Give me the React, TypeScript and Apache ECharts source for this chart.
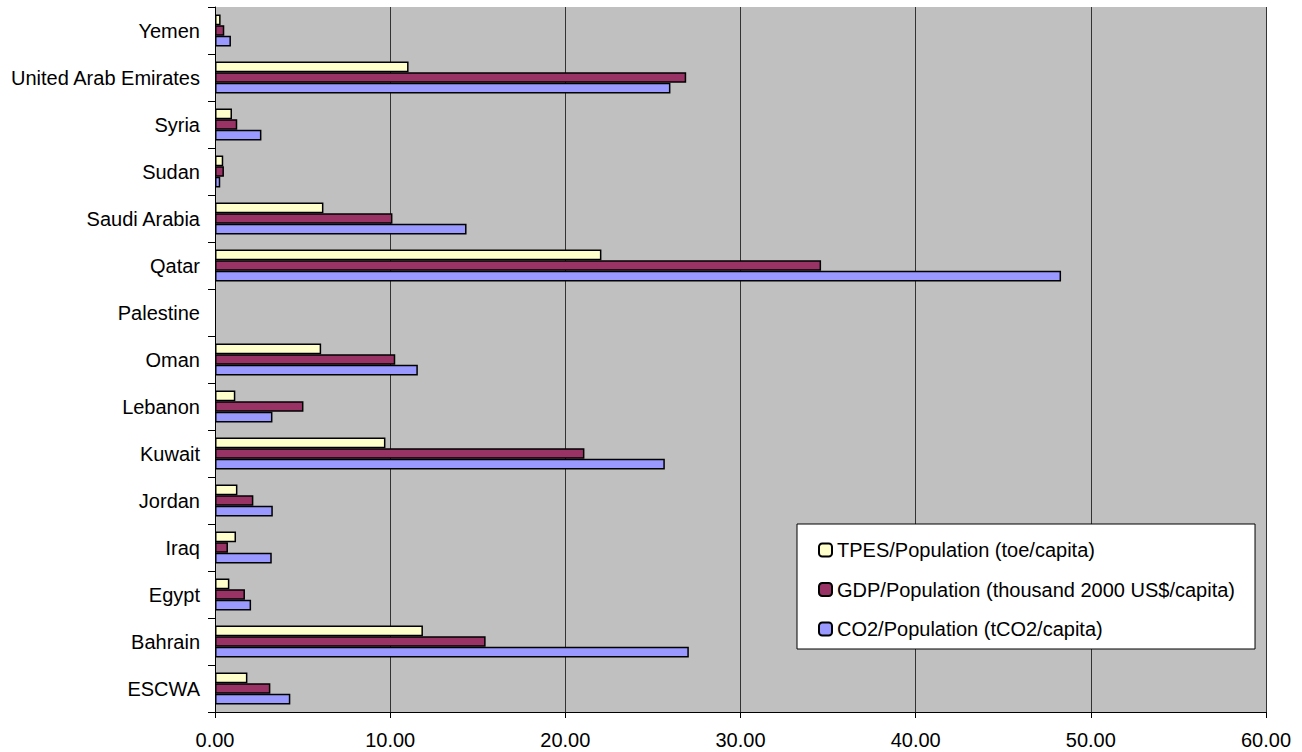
import React, { useEffect, useRef } from "react";
import * as echarts from "echarts";

const categories = [
  "ESCWA", "Bahrain", "Egypt", "Iraq", "Jordan", "Kuwait", "Lebanon", "Oman",
  "Palestine", "Qatar", "Saudi Arabia", "Sudan", "Syria", "United Arab Emirates", "Yemen",
];
const tpes = [1.85, 11.87, 0.82, 1.2, 1.28, 9.73, 1.16, 6.06, null, 22.06, 6.19, 0.47, 0.97, 11.05, 0.32];
const gdp = [3.16, 15.45, 1.71, 0.74, 2.19, 21.09, 5.05, 10.29, null, 34.6, 10.13, 0.51, 1.27, 26.9, 0.53];
const co2 = [4.3, 27.05, 2.06, 3.24, 3.3, 25.68, 3.28, 11.58, null, 48.3, 14.36, 0.3, 2.65, 26.0, 0.91];
const seriesNames = [
  "TPES/Population (toe/capita)",
  "GDP/Population (thousand 2000 US$/capita)",
  "CO2/Population (tCO2/capita)",
];
const colors = ["#FFFFCC", "#993366", "#9999FF"];

const FONT = "'Liberation Sans', Arial, sans-serif";

export default function App() {
  const ref = useRef<HTMLDivElement>(null);
  useEffect(() => {
    const chart = echarts.init(ref.current!, null, { renderer: "svg" });
    const data = [tpes, gdp, co2];
    chart.setOption({
      animation: false,
      backgroundColor: "#FFFFFF",
      textStyle: { fontFamily: FONT },
      grid: {
        left: 215,
        right: 36,
        top: 7,
        bottom: 40,
        show: true,
        backgroundColor: "#C0C0C0",
        borderWidth: 0,
      },
      legend: {
        orient: "vertical",
        left: 797,
        top: 524,
        data: seriesNames,
        selectedMode: false,
        itemWidth: 13,
        itemHeight: 13,
        itemGap: 19.5,
        backgroundColor: "#FFFFFF",
        borderColor: "#000000",
        borderWidth: 1,
        borderRadius: 0,
        padding: [16, 20, 10, 21],
        textStyle: { fontSize: 20, color: "#000", fontFamily: FONT },
      },
      xAxis: {
        type: "value",
        min: 0,
        max: 60,
        interval: 10,
        axisLine: { show: true, lineStyle: { color: "#000", width: 1 } },
        axisTick: { show: true, length: 6, lineStyle: { color: "#000" } },
        axisLabel: {
          fontSize: 20,
          color: "#000",
          fontFamily: FONT,
          margin: 18,
          formatter: (v: number) => v.toFixed(2),
        },
        splitLine: { show: true, lineStyle: { color: "#333", width: 1 } },
      },
      yAxis: {
        type: "category",
        data: categories,
        axisLine: { show: true, lineStyle: { color: "#000", width: 1 } },
        axisTick: { show: true, length: 7, lineStyle: { color: "#000" } },
        axisLabel: { fontSize: 20, color: "#000", fontFamily: FONT, margin: 15 },
        splitLine: { show: false },
      },
      series: seriesNames.map((name, i) => ({
        name,
        type: "bar",
        data: data[i],
        barGap: "0%",
        barCategoryGap: "32%",
        itemStyle: { color: colors[i], borderColor: "#000", borderWidth: 1.5 },
      })),
    });
    return () => chart.dispose();
  }, []);
  return (
    <div
      ref={ref}
      style={{ position: "fixed", left: 0, top: 0, width: 1302, height: 752 }}
    />
  );
}
